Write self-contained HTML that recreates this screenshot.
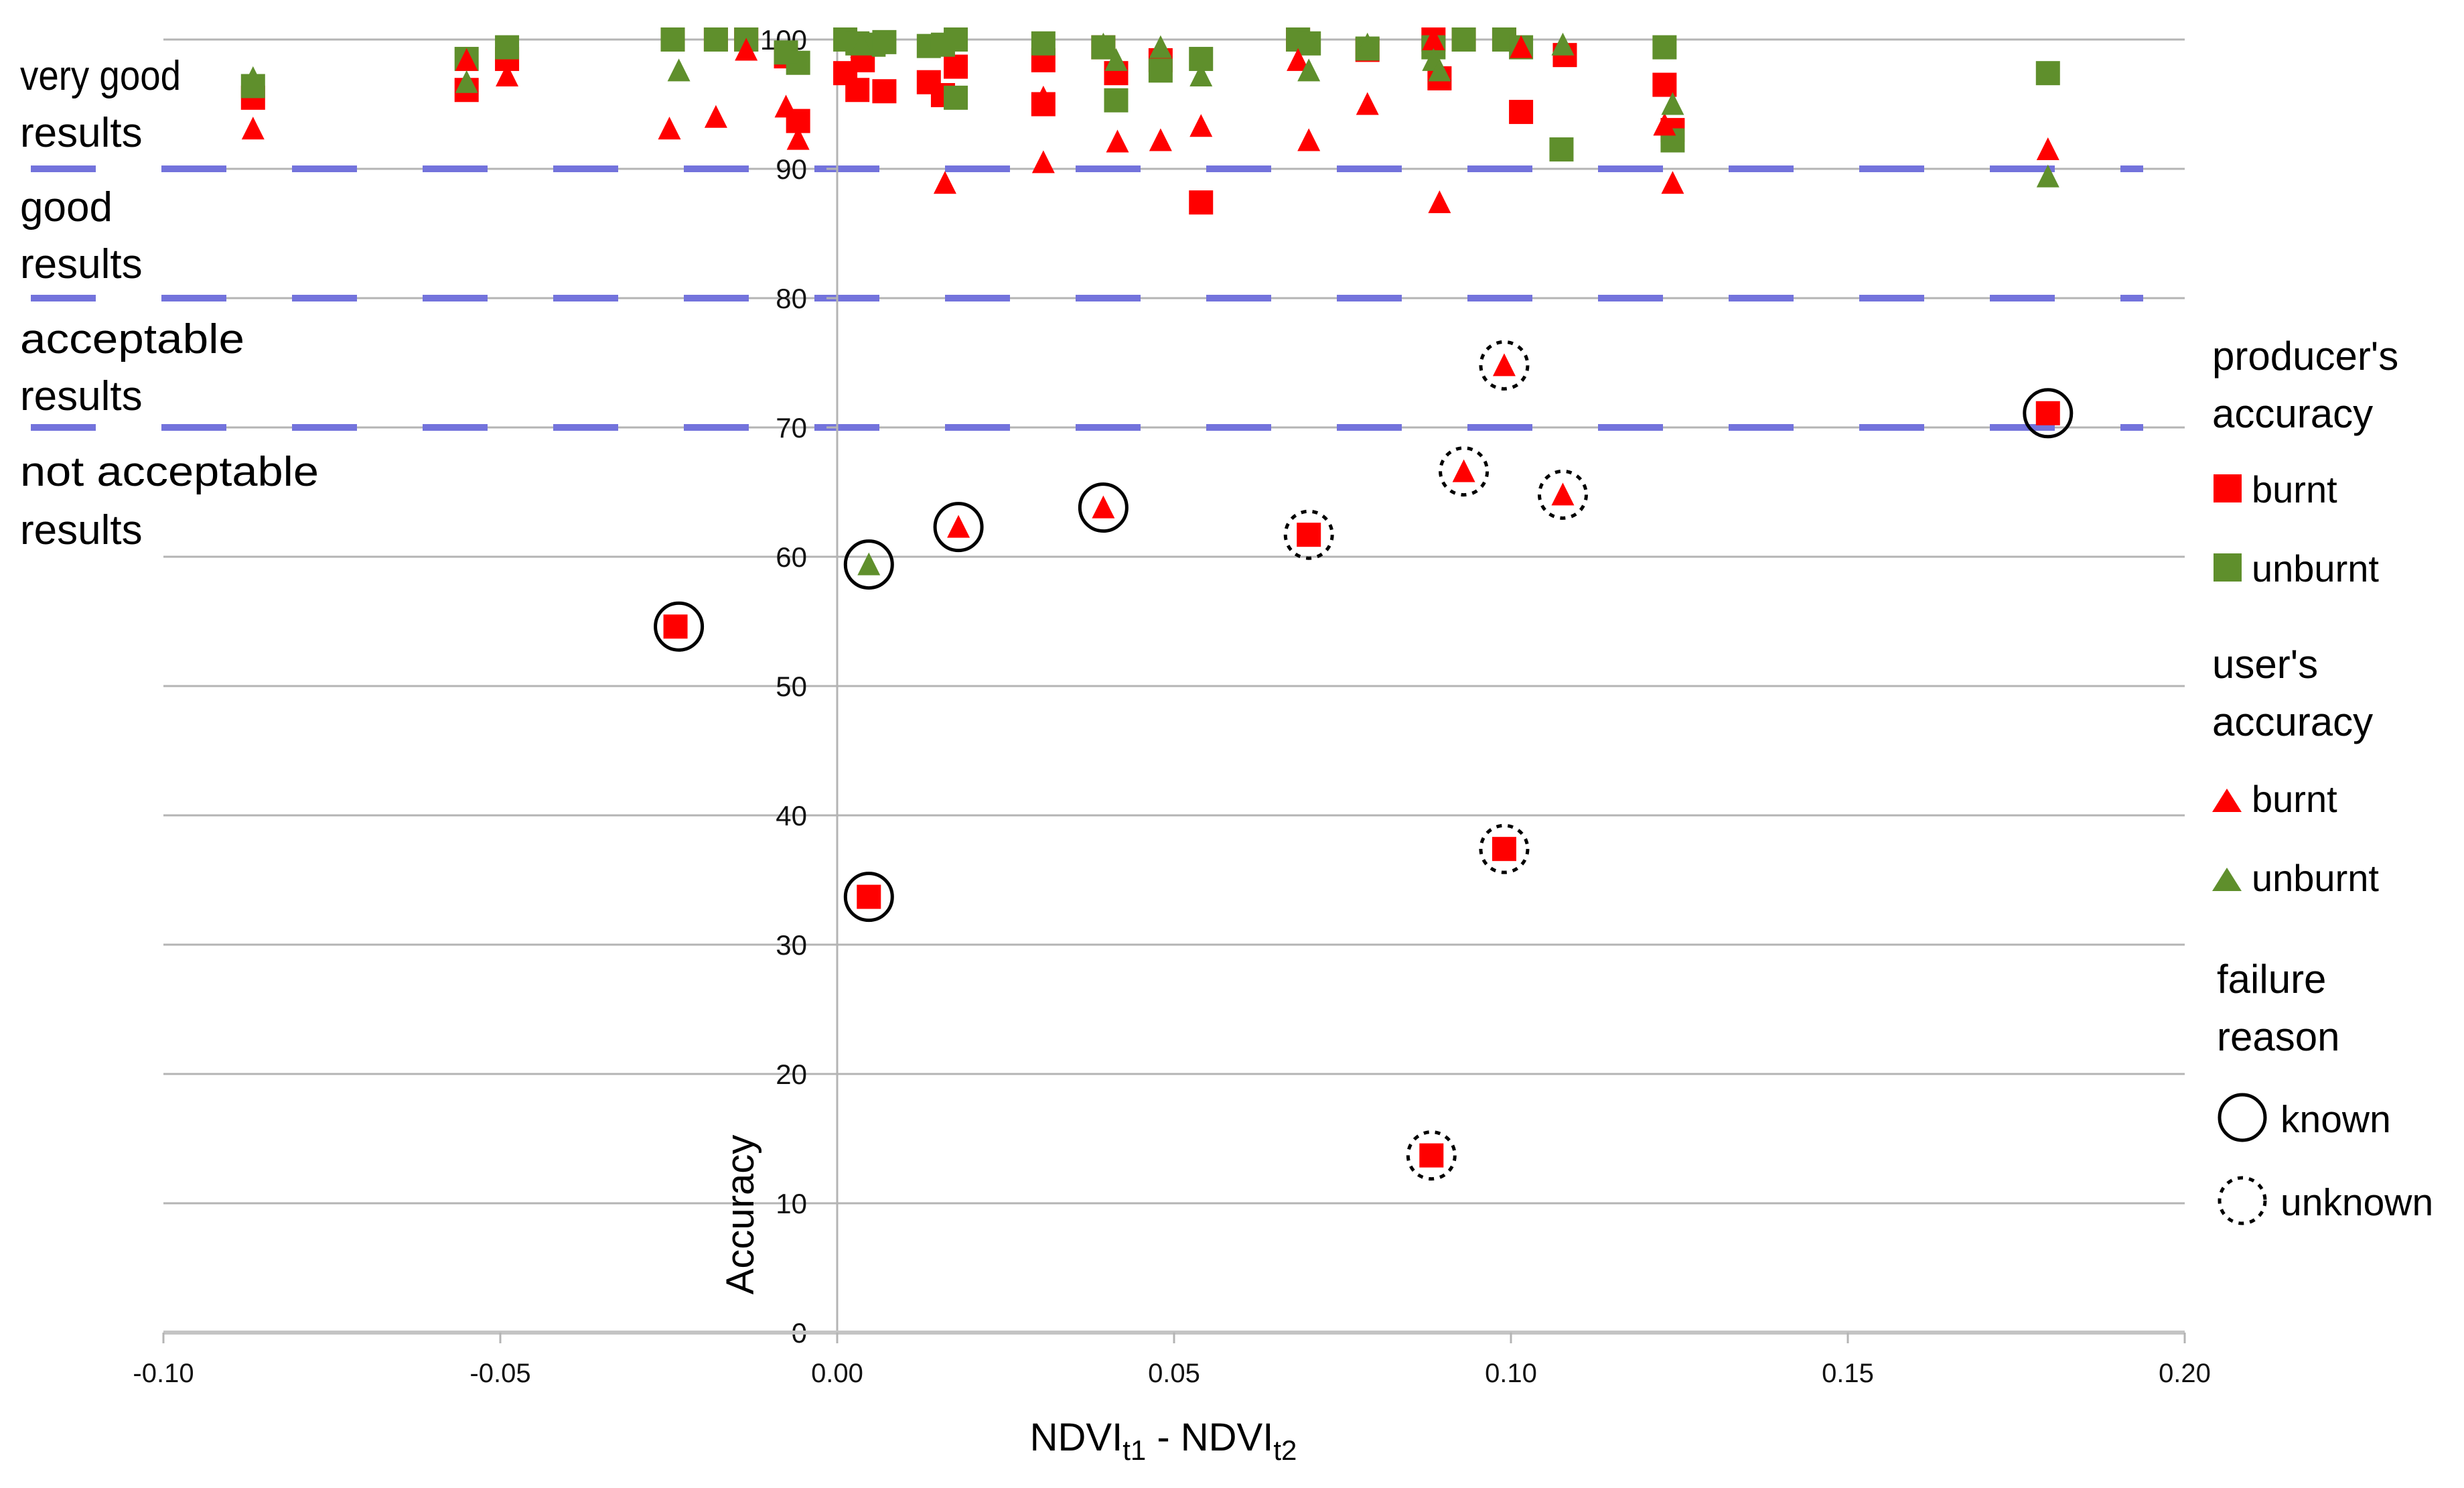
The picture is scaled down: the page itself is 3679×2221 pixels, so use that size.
<!DOCTYPE html>
<html><head><meta charset="utf-8"><style>
html,body{margin:0;padding:0;background:#fff;}
svg{display:block;font-family:"Liberation Sans",Arial,sans-serif;}
</style></head><body>
<svg id="chart" width="3679" height="2221" viewBox="0 0 3679 2221" xmlns="http://www.w3.org/2000/svg">
<g id="grid"></g>
<g id="bands"></g>
<g id="axes"></g>
<g id="marks"></g>
<g id="labels">
<text x="30" y="134" font-size="62" textLength="240" lengthAdjust="spacingAndGlyphs">very good</text>
<text x="30" y="219" font-size="62">results</text>
<text x="30" y="330" font-size="62">good</text>
<text x="30" y="415" font-size="62">results</text>
<text x="30" y="527" font-size="62" textLength="335" lengthAdjust="spacingAndGlyphs">acceptable</text>
<text x="30" y="612" font-size="62">results</text>
<text x="30" y="725" font-size="62" textLength="446" lengthAdjust="spacingAndGlyphs">not acceptable</text>
<text x="30" y="812" font-size="62">results</text>
</g>
<text x="0" y="0" font-size="58" text-anchor="middle" transform="translate(1125,1813) rotate(-90)">Accuracy</text>
<text x="1737" y="2165" font-size="58" text-anchor="middle">NDVI<tspan font-size="42" dy="14">t1</tspan><tspan dy="-14"> - NDVI</tspan><tspan font-size="42" dy="14">t2</tspan></text>
<g id="legend">
<text x="3303" y="552" font-size="60">producer's</text>
<text x="3303" y="638" font-size="60">accuracy</text>
<rect x="3305" y="708" width="42" height="42" fill="#ff0000"/>
<text x="3362" y="750" font-size="56">burnt</text>
<rect x="3305" y="826" width="42" height="42" fill="#5f8f2c"/>
<text x="3362" y="868" font-size="56">unburnt</text>
<text x="3303" y="1012" font-size="60">user's</text>
<text x="3303" y="1098" font-size="60">accuracy</text>
<polygon points="3303,1212 3347,1212 3325,1177" fill="#ff0000"/>
<text x="3362" y="1212" font-size="56">burnt</text>
<polygon points="3303,1330 3347,1330 3325,1295" fill="#5f8f2c"/>
<text x="3362" y="1330" font-size="56">unburnt</text>
<text x="3310" y="1482" font-size="60">failure</text>
<text x="3310" y="1568" font-size="60">reason</text>
<circle cx="3348" cy="1668" r="34" fill="none" stroke="#000" stroke-width="5"/>
<text x="3405" y="1690" font-size="57">known</text>
<circle cx="3348" cy="1792" r="34" fill="none" stroke="#000" stroke-width="5" stroke-dasharray="8,9"/>
<text x="3405" y="1814" font-size="57">unknown</text>
</g>
</svg>
<script>
const xTicks = [-0.10, -0.05, 0.00, 0.05, 0.10, 0.15, 0.20];
const xTickLabels = ["-0.10","-0.05","0.00","0.05","0.10","0.15","0.20"];
const yTicks = [0,10,20,30,40,50,60,70,80,90,100];
const thresholds = [90, 80, 70];

const prodBurntX = [-0.0867,-0.055,-0.049,-0.0244,-0.018,-0.0135,-0.0076,-0.0058,0.0012,0.003,0.0038,0.007,0.0136,0.0157,0.0176,0.0306,0.0306,0.0395,0.0414,0.048,0.054,0.0684,0.0787,0.0885,0.0894,0.093,0.099,0.1015,0.108,0.1228,0.124,0.1797,0.070,-0.024,0.0047,0.099,0.0882];
const prodBurntY = [95.5,96.1,98.5,100,100,100,98.7,93.7,97.4,96.1,98.4,96,96.7,95.7,97.9,98.4,95,99.4,97.4,98.4,87.4,100,99.2,100,97,100,100,94.4,98.8,96.5,93,71.1,61.7,54.6,33.7,37.4,13.7];

const prodUnburntX = [-0.0867,-0.055,-0.049,-0.0244,-0.018,-0.0135,-0.0076,-0.0058,0.0012,0.003,0.0054,0.007,0.0136,0.0157,0.0176,0.0176,0.0306,0.0395,0.0414,0.048,0.054,0.0684,0.070,0.0787,0.0885,0.093,0.099,0.1015,0.1075,0.1228,0.124,0.1797];
const prodUnburntY = [96.4,98.5,99.4,100,100,100,99,98.2,100,99.7,99.6,99.8,99.5,99.6,95.5,100,99.7,99.4,95.3,97.6,98.5,100,99.7,99.3,99.4,100,100,99.4,91.5,99.4,92.2,97.4];

const userBurntX = [-0.0867,-0.055,-0.049,-0.0249,-0.018,-0.0135,-0.0076,-0.0058,0.0036,0.016,0.018,0.0306,0.0306,0.0395,0.0416,0.048,0.054,0.0684,0.070,0.0787,0.0894,0.0885,0.099,0.093,0.1077,0.1015,0.1228,0.124,0.1797];
const userBurntY = [93.1,98.4,97.2,93.1,94,99.2,94.8,92.3,99.4,88.9,62.3,90.5,95.5,63.8,92.1,92.2,93.3,98.4,92.2,95,87.4,100,74.8,66.6,64.8,99.4,93.4,88.9,91.5];

const userUnburntX = [-0.0867,-0.055,-0.049,-0.0235,0.0047,-0.0076,0.0036,0.0395,0.0414,0.048,0.054,0.070,0.0787,0.0885,0.0894,0.1077,0.124,0.1797];
const userUnburntY = [97,96.7,99.4,97.6,59.4,99,99.6,99.6,98.4,99.4,97.2,97.6,99.6,98.4,97.6,99.6,95,89.4];

const knownX = [-0.0235,0.0047,0.0047,0.018,0.0395,0.1797];
const knownY = [54.6,59.4,33.7,62.3,63.8,71.1];
const unknownX = [0.099,0.093,0.1077,0.070,0.099,0.0882];
const unknownY = [74.8,66.6,64.8,61.7,37.4,13.7];

const NS = "http://www.w3.org/2000/svg";
const X0 = 244, X1 = 3262, Y0 = 1989, Y1 = 59;
function sx(v){ return X0 + (v - (-0.10)) / 0.30 * (X1 - X0); }
function sy(v){ return Y0 - v / 100 * (Y0 - Y1); }
function mk(tag, attrs, parent){ const e = document.createElementNS(NS, tag); for (const k in attrs) e.setAttribute(k, attrs[k]); parent.appendChild(e); return e; }

const grid = document.getElementById('grid');
const axes = document.getElementById('axes');
yTicks.forEach(t => {
  if (t > 0) {
    const l = mk('line', {x1:X0, x2:X1, y1:sy(t), y2:sy(t), stroke:'#b4b4b4', 'stroke-width':3}, grid);
    
    
  }
  const tk = mk('line', {x1:sx(0)-16, x2:sx(0), y1:sy(t), y2:sy(t), stroke:'#b4b4b4', 'stroke-width':3}, axes);
  
  
  const tx = mk('text', {x:sx(0)-45, y:sy(t)+15, 'font-size':42, 'text-anchor':'end', fill:'#111'}, axes);
  tx.textContent = String(t);
  
  
});
const bands = document.getElementById('bands');
thresholds.forEach(t => {
  const l = mk('line', {x1:46, x2:3200, y1:sy(t), y2:sy(t), stroke:'#7373dc', 'stroke-width':10, 'stroke-dasharray':'97,98'}, bands);
  
  
});
const va = mk('line', {x1:sx(0), x2:sx(0), y1:Y1, y2:Y0, stroke:'#b4b4b4', 'stroke-width':3}, axes);


const ha = mk('line', {x1:X0, x2:X1, y1:Y0, y2:Y0, stroke:'#c4c4c4', 'stroke-width':6}, axes);


xTicks.forEach((t, i) => {
  const tk = mk('line', {x1:sx(t), x2:sx(t), y1:Y0, y2:Y0+16, stroke:'#b4b4b4', 'stroke-width':3}, axes);
  
  
  const tx = mk('text', {x:sx(t), y:2063, 'font-size':40, 'text-anchor':'middle', fill:'#111'}, axes);
  tx.textContent = xTickLabels[i];
  
  
});

const marks = document.getElementById('marks');
function squares(xs, ys, color, name){
  xs.forEach((x, i) => {
    const r = mk('rect', {x:sx(x)-18, y:sy(ys[i])-18, width:36, height:36, fill:color}, marks);
    
    
  });
}
function tris(xs, ys, color, name){
  xs.forEach((x, i) => {
    const cx = sx(x), cy = sy(ys[i]);
    const p = mk('polygon', {points:`${cx-17},${cy+16} ${cx+17},${cy+16} ${cx},${cy-18}`, fill:color}, marks);
    
    
  });
}
squares(prodBurntX, prodBurntY, '#ff0000', 'producer-burnt-point');
squares(prodUnburntX, prodUnburntY, '#5f8f2c', 'producer-unburnt-point');
tris(userBurntX, userBurntY, '#ff0000', 'user-burnt-point');
tris(userUnburntX, userUnburntY, '#5f8f2c', 'user-unburnt-point');
knownX.forEach((x, i) => {
  const c = mk('circle', {cx:sx(x), cy:sy(knownY[i]), r:35, fill:'none', stroke:'#000', 'stroke-width':5}, marks);
  
  
});
unknownX.forEach((x, i) => {
  const c = mk('circle', {cx:sx(x), cy:sy(unknownY[i]), r:35, fill:'none', stroke:'#000', 'stroke-width':5, 'stroke-dasharray':'8,9'}, marks);
  
  
});
</script>
</body></html>
